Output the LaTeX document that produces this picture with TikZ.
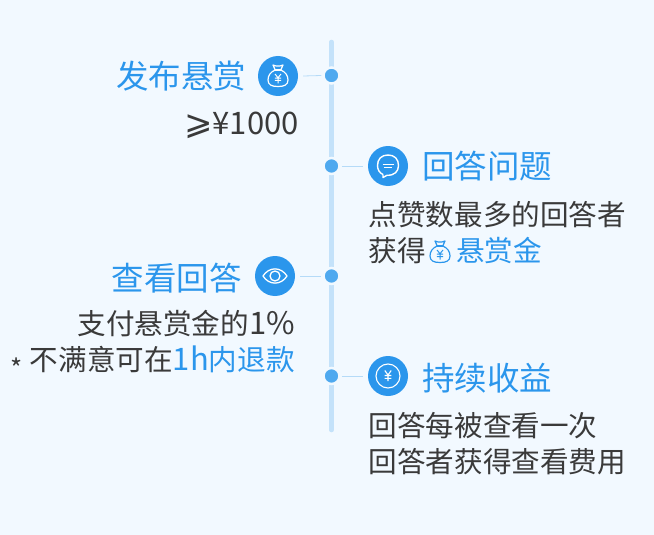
\documentclass[tikz,border=0pt]{standalone}
\usepackage{fontspec}
\setmainfont{Noto Sans CJK SC}
\newfontfamily\symfont{DejaVu Sans}
\definecolor{bgc}{HTML}{F2F9FF}
\definecolor{blu}{HTML}{2B96EC}
\definecolor{dotc}{HTML}{4FA9EF}
\definecolor{railc}{HTML}{C4E2FA}
\definecolor{tickc}{HTML}{B5DBF8}
\definecolor{ink}{HTML}{3A3A3A}
\newcommand{\lat}[1]{{\fontsize{31}{32}\selectfont #1}}
\tikzset{
 x=1pt,y=-1pt,
 ttl/.style={inner sep=0pt,text=blu,font=\fontsize{32.5}{36}\selectfont},
 bod/.style={inner sep=0pt,text=ink,font=\fontsize{28.6}{32}\selectfont},
 ico/.style={circle,fill=blu,minimum size=40pt,inner sep=0pt},
 dotn/.style={circle,fill=dotc,inner sep=0pt,draw=bgc,line width=2.5pt,minimum size=16pt},
 tick/.style={draw=tickc,line width=0.8pt},
 rail/.style={draw=railc,line width=4.5pt,line cap=round},
 yen/.pic={
  \draw[line width=1.1pt,pic actions] (-3.2,-5) -- (0,-0.5) -- (3.2,-5) (0,-0.5) -- (0,5.5) (-3.4,0) -- (3.4,0) (-3.4,2.8) -- (3.4,2.8);
 },
 bag/.pic={
  \draw[line width=1.2pt,pic actions,line join=round]
    (-5,-10.5) .. controls (-2,-9) and (2,-9) .. (5,-10.5) -- (2.8,-5.5)
    .. controls (7.5,-3.5) and (10,0) .. (10,4.5) .. controls (10,9.5) and (6,11) .. (0,11)
    .. controls (-6,11) and (-10,9.5) .. (-10,4.5) .. controls (-10,0) and (-7.5,-3.5) .. (-2.8,-5.5) -- cycle;
  \draw[line width=1.2pt,pic actions] (-2.8,-5.5) -- (2.8,-5.5);
  \draw[line width=1pt,pic actions] (-3,-1.5) -- (0,2.2) -- (3,-1.5) (0,2.2) -- (0,8) (-3.2,2.6) -- (3.2,2.6) (-3.2,5) -- (3.2,5);
 },
}
\begin{document}
\begin{tikzpicture}
\useasboundingbox[fill=bgc] (0,0) rectangle (654,535);
\coordinate (railtop) at (331.5,42);
\coordinate (railbot) at (331.5,430);
\draw[rail] (railtop) -- (railbot);
\node[dotn] (d1) at (331.5,75.5) {};
\node[dotn] (d2) at (331.5,166) {};
\node[dotn] (d3) at (331.5,276) {};
\node[dotn] (d4) at (331.5,376) {};
\node[ico] (i1) at (278,76) {};
\node[ico] (i2) at (388,166) {};
\node[ico] (i3) at (275,276) {};
\node[ico] (i4) at (388,376) {};
\draw[tick] ([xshift=5pt]i1.east) -- ([xshift=-1pt]d1.west);
\draw[tick] ([xshift=1pt]d2.east) -- ([xshift=-5pt]i2.west);
\draw[tick] ([xshift=5pt]i3.east) -- ([xshift=-1pt]d3.west);
\draw[tick] ([xshift=1pt]d4.east) -- ([xshift=-5pt]i4.west);
% icon glyphs
\pic[draw=white] at (278,75.5) {bag};
\begin{scope}[shift={(388,165.5)}]
 \draw[white,line width=1.4pt,line join=round]
   (-5,9) -- (-5,12) -- (-1,9.8) .. controls (6.5,10) and (10.5,6) .. (10.5,0)
   .. controls (10.5,-6.5) and (6.5,-10.5) .. (0,-10.5) .. controls (-6.5,-10.5) and (-10.5,-6.5) .. (-10.5,0)
   .. controls (-10.5,4) and (-8.5,7.5) .. (-5,9);
 \draw[white,line width=1.1pt] (-5.5,-1.2) -- (5.5,-1.2) (-4,2.4) -- (4,2.4);
\end{scope}
\begin{scope}[shift={(275,276)}]
 \draw[white,line width=1.3pt,line join=round] (-12,0) .. controls (-6,-9.5) and (6,-9.5) .. (12,0) .. controls (6,9.5) and (-6,9.5) .. (-12,0) -- cycle;
 \draw[white,line width=1.3pt] (0,0) circle[radius=5];
\end{scope}
\draw[white,line width=1.1pt] (388,376) circle[radius=12];
\pic[draw=white] at (388,375.5) {yen};
% titles
\node[ttl,anchor=base east] (t1) at (246.5,88.5) {发布悬赏};
\node[ttl,anchor=base west] (t2) at (422,178.5) {回答问题};
\node[ttl,anchor=base east] (t3) at (242,290) {查看回答};
\node[ttl,anchor=base west] (t4) at (422,390) {持续收益};
% bodies
\node[bod,anchor=base east] (b1) at (299,135) {{\symfont\fontsize{34}{36}\selectfont ⩾}\lat{¥1000}};
\node[bod,anchor=base west] (b2) at (368.5,225) {点赞数最多的回答者};
\node[bod,anchor=base west] (b3) at (368.5,261) {获得};
\pic[draw=blu,line width=0.9pt] at (440,251.5) {bag};
\node[bod,anchor=base west,text=blu] (b4) at (456,261) {悬赏金};
\node[bod,anchor=base east] (b5) at (295,334.5) {支付悬赏金的\lat{1\%}};
\node[bod,anchor=base east] (b6) at (295,370.5) {\raisebox{-7.5pt}{\fontsize{26}{28}\selectfont *}\hspace{7pt}不满意可在\textcolor{blu}{\lat{1h}内退款}};
\node[bod,anchor=base west] (b7) at (368.5,436) {回答每被查看一次};
\node[bod,anchor=base west] (b8) at (368.5,472) {回答者获得查看费用};
\end{tikzpicture}
\end{document}
